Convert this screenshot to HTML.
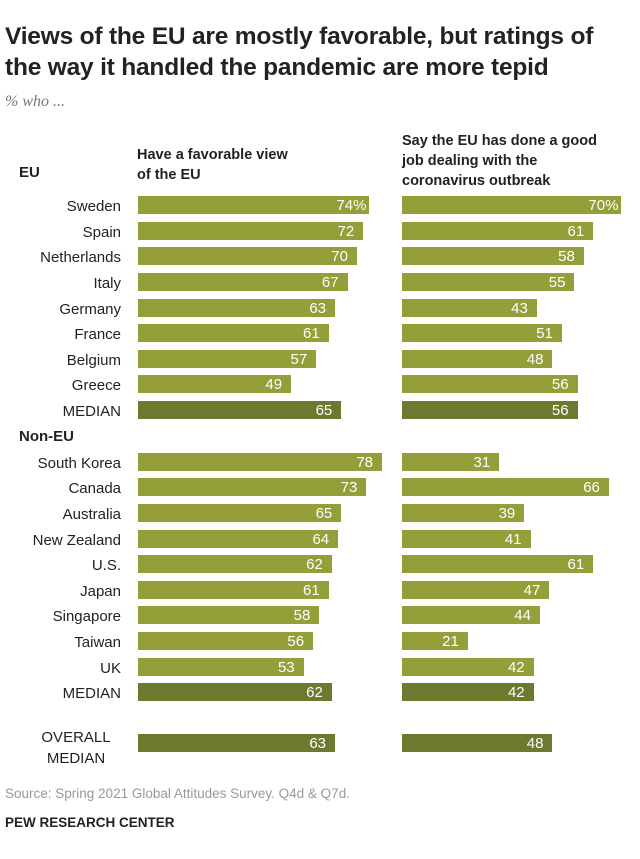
<!DOCTYPE html>
<html><head><meta charset="utf-8"><style>
body{margin:0;width:640px;height:859px;background:#fff;font-family:"Liberation Sans",sans-serif;overflow:hidden}
#t{position:absolute;left:5px;top:21px;font-size:24.5px;font-weight:bold;line-height:31px;color:#222;letter-spacing:-0.2px}
#s{position:absolute;left:5px;top:93px;font-size:16px;font-style:italic;color:#777;font-family:"Liberation Serif",serif}
.h{position:absolute;font-size:14.5px;font-weight:bold;line-height:20px;color:#222}
.l{position:absolute;font-size:15px;color:#222;text-align:right;width:200px}
.g{position:absolute;font-size:15px;font-weight:bold;color:#222}
.b{position:absolute;height:18px;background:#949f3a}
.m{background:#6b7a2e}
.v{position:absolute;right:9px;top:1px;line-height:18px;font-size:15px;color:#fff}
#src{position:absolute;left:5px;top:786px;font-size:13.5px;color:#999}
#pew{position:absolute;left:5px;top:815px;font-size:13.5px;font-weight:bold;color:#222}
</style></head><body>
<div id="t">Views of the EU are mostly favorable, but ratings of<br>the way it handled the pandemic are more tepid</div>
<div id="s">% who ...</div>
<div class="h" style="left:137px;top:145px">Have a favorable view<br>of the EU</div>
<div class="h" style="left:402px;top:131px">Say the EU has done a good<br>job dealing with the<br>coronavirus outbreak</div>
<div class="g" style="left:19px;top:164px">EU</div>
<div class="g" style="left:19px;top:428px">Non-EU</div>
<div id="chart"></div>
<div id="src">Source: Spring 2021 Global Attitudes Survey. Q4d &amp; Q7d.</div>
<div id="pew">PEW RESEARCH CENTER</div>
<script>
const categories=["Sweden","Spain","Netherlands","Italy","Germany","France","Belgium","Greece","MEDIAN","South Korea","Canada","Australia","New Zealand","U.S.","Japan","Singapore","Taiwan","UK","MEDIAN","OVERALL MEDIAN"];
const favorable=[74,72,70,67,63,61,57,49,65,78,73,65,64,62,61,58,56,53,62,63];
const goodJob=[70,61,58,55,43,51,48,56,56,31,66,39,41,61,47,44,21,42,42,48];
const isMedian=[0,0,0,0,0,0,0,0,1,0,0,0,0,0,0,0,0,0,1,1];
const rowTop=[196,222,247,273,299,324,350,375,401,453,478,504,530,555,581,606,632,658,683,734];
const scale=v=>v*3.135;
const chart=document.getElementById('chart');
categories.forEach((c,i)=>{
  const lab=document.createElement('div');
  lab.className='l';
  
  
  if(c==="OVERALL MEDIAN"){lab.innerHTML="OVERALL<br>MEDIAN";lab.style.lineHeight="21px";lab.style.top=(rowTop[i]-7)+'px';lab.style.textAlign='center';lab.style.left='-24px';}
  else{lab.textContent=c;lab.style.top=(rowTop[i]+2)+'px';lab.style.left='-79px';lab.style.lineHeight='18px';}
  chart.appendChild(lab);
  [[favorable,137.5,'bar-favorable'],[goodJob,402,'bar-good-job']].forEach(([arr,x,nm],k)=>{
    const b=document.createElement('div');
    b.className='b'+(isMedian[i]?' m':'');
    
    
    b.style.left=x+'px';b.style.top=rowTop[i]+'px';b.style.width=scale(arr[i])+'px';
    const v=document.createElement('span');
    v.className='v';
    
    
    v.textContent=arr[i]+(i===0?'%':'');
    if(i===0)v.style.right='3px';
    b.appendChild(v);
    chart.appendChild(b);
  });
});
</script>
</body></html>
